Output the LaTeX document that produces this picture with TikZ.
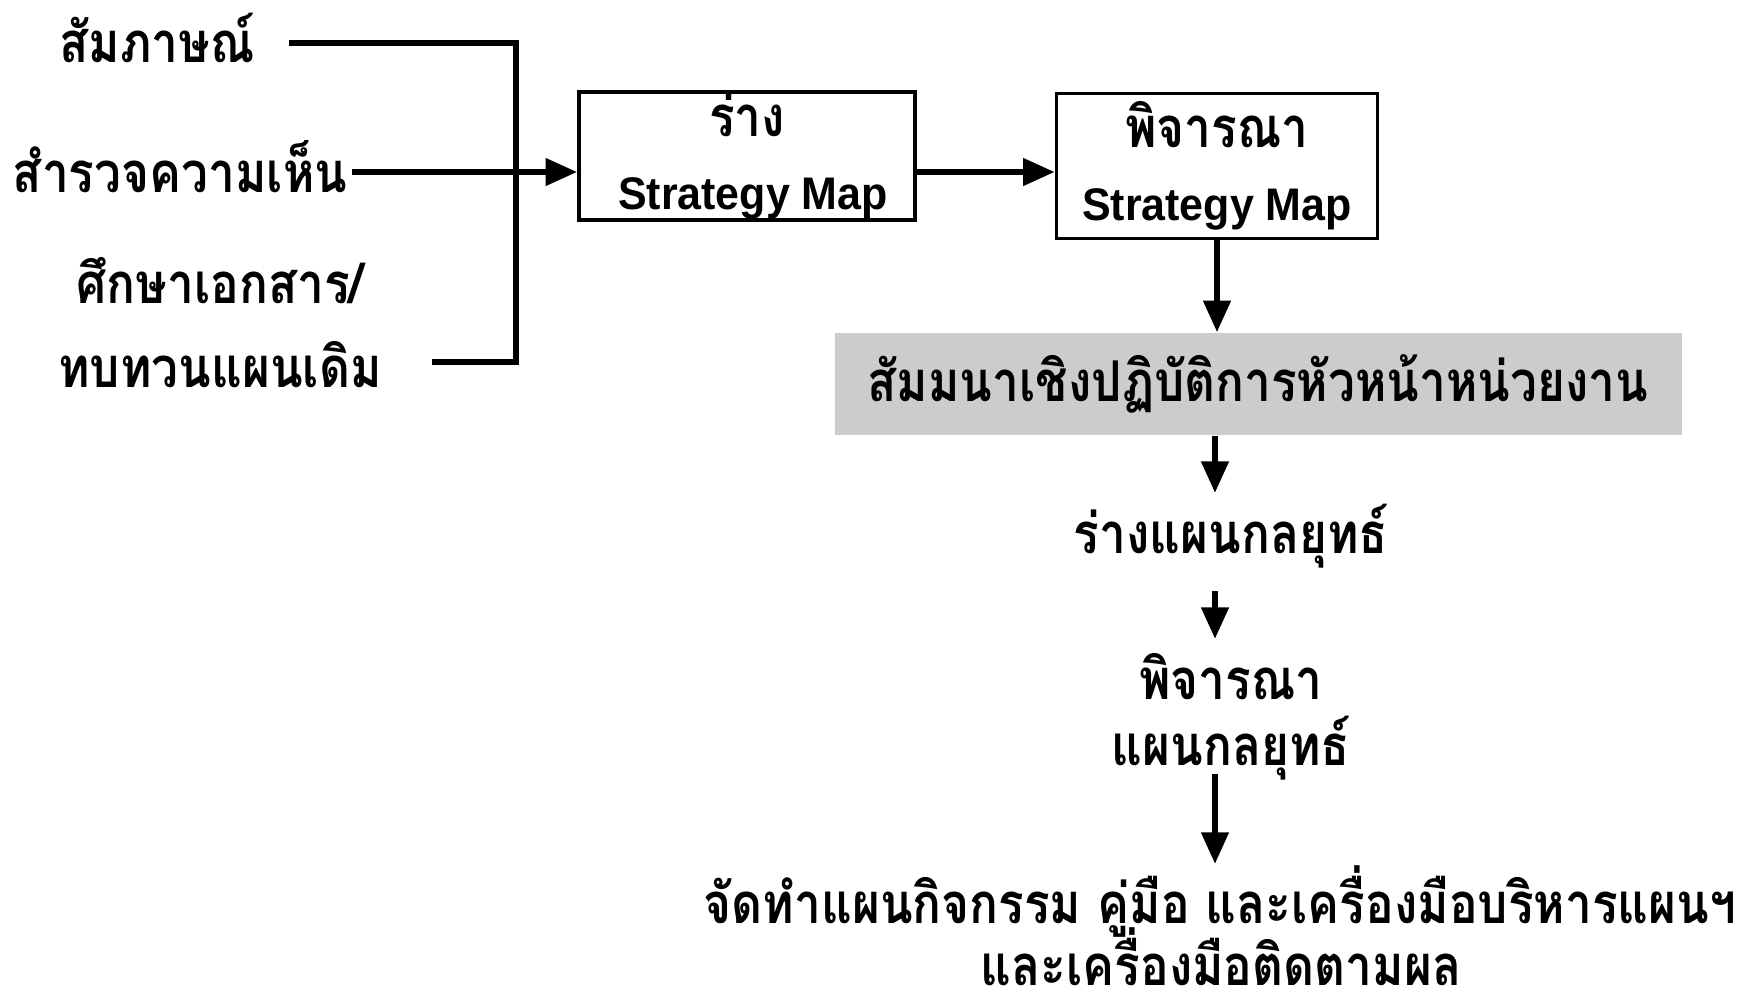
\documentclass[tikz,border=0pt]{standalone}
\usepackage{fontspec}
\setmainfont{Liberation Sans}
\setsansfont{Liberation Sans}
\newfontfamily\thai[Script=Thai,FakeStretch=0.85]{Loma}
\newfontfamily\enfont[FakeStretch=0.94]{Liberation Sans}
\usetikzlibrary{arrows.meta,calc}
\begin{document}
\begin{tikzpicture}[x=0.1mm,y=-0.1mm,
  th/.style={font=\thai\bfseries\fontsize{16pt}{18pt}\selectfont, inner sep=0pt, yshift=0.5mm},
  conn/.style={line width=1.8pt, line join=miter, line cap=rect},
  arr/.style={line width=1.8pt, -{Triangle[length=9pt,width=7.5pt]}},
  box/.style={draw, line width=1pt, inner sep=0pt, align=center,
    font=\enfont\bfseries\fontsize{13pt}{20.7pt}\selectfont},
  band/.style={fill=gray!40, inner sep=0pt, font=\thai\bfseries\fontsize{16pt}{18pt}\selectfont}]
\useasboundingbox (0,0) rectangle (1758,1003);
% inputs
\node[th] (in1) at (157,43) {สัมภาษณ์};
\node[th] (in2) at (180,172) {สำรวจความเห็น};
\node[th] (in3a) at (220,286) {ศึกษาเอกสาร/};
\node[th] (in3b) at (220,370) {ทบทวนแผนเดิม};
% boxes
\node[box, minimum width=33.6mm, minimum height=12.8mm] (box1) at (747,156)
  {{\thai\fontsize{16pt}{20.7pt}\selectfont ร่าง}\\\hspace*{1.2mm}Strategy Map};
\node[box, minimum width=32.1mm, minimum height=14.5mm] (box2) at (1217,166)
  {{\thai\fontsize{16pt}{20.7pt}\selectfont พิจารณา}\\Strategy Map};
% band
\node[band, minimum width=84.7mm, minimum height=10.2mm] (band) at (1258,384)
  {\raisebox{0.3mm}{สัมมนาเชิงปฏิบัติการหัวหน้าหน่วยงาน}};
% chain
\node[th] (n3) at (1231,541) {ร่างแผนกลยุทธ์};
\node[th] (n4a) at (1231,682) {พิจารณา};
\node[th] (n4b) at (1231,753) {แผนกลยุทธ์};
\node[th] (n5a) at (1220,906) {จัดทำแผนกิจกรรม คู่มือ และเครื่องมือบริหารแผนฯ};
\node[th] (n5b) at (1221,962) {และเครื่องมือติดตามผล};
% connector points
\coordinate (s1) at (292,43);
\coordinate (s2) at (352,172);
\coordinate (s3) at (435,362);
\coordinate (j3) at (516,362);
\coordinate (t2) at (1215,493);
\coordinate (s4) at (1215,591);
\coordinate (t4) at (1215,639);
\coordinate (s5) at (1215,774);
\coordinate (t5) at (1215,864);
% connectors
\draw[conn] (s1) -| (j3) -- (s3);
\draw[arr] (s2) -- (s2 -| box1.west);
\draw[arr] (s2 -| box1.east) -- (s2 -| box2.west);
\draw[arr] (box2.south) -- (box2.south |- band.north);
\draw[arr] (t2 |- band.south) -- (t2);
\draw[arr] (s4) -- (t4);
\draw[arr] (s5) -- (t5);
\end{tikzpicture}
\end{document}
